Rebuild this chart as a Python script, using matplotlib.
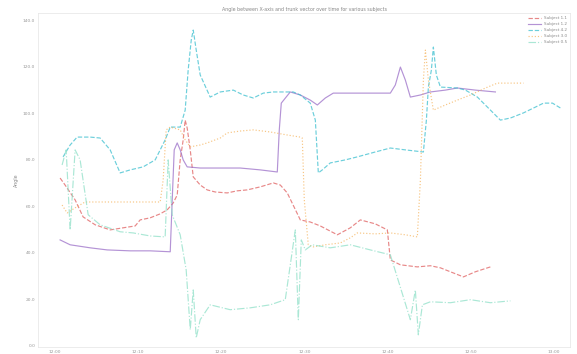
import matplotlib
matplotlib.use("Agg")
import matplotlib.pyplot as plt
from matplotlib.ticker import FuncFormatter

# time in minutes after 12:00, angle in degrees
s1_t = [0.60, 1.20, 2.41, 3.37, 4.82, 6.63, 8.19, 9.64, 10.24, 11.45, 12.65, 13.49, 14.22, 14.70,
        15.06, 15.42, 15.66, 15.90, 16.27, 16.63, 17.47, 18.31, 19.28, 20.72, 21.93, 23.13, 24.70,
        26.27, 27.11, 27.95, 28.67, 29.52, 30.72, 31.93, 33.98, 35.54, 36.75, 38.55, 40.00, 40.36,
        41.57, 43.61, 45.18, 46.39, 47.59, 49.16, 50.60, 52.41]
s1_a = [72.1, 69.1, 62.7, 55.4, 52.0, 49.8, 50.7, 51.5, 54.1, 55.0, 56.7, 58.4, 61.4, 64.8,
        79.9, 88.5, 97.0, 93.6, 84.2, 72.6, 69.1, 67.0, 66.1, 65.7, 66.6, 67.0, 68.3,
        70.0, 69.1, 65.7, 60.4, 54.1, 53.2, 51.5, 47.7, 50.7, 54.1, 52.4, 49.8, 36.9,
        34.8, 33.9, 34.4, 33.5, 31.8, 29.6, 31.8, 33.9]

s2_t = [0.60, 1.81, 4.22, 6.27, 9.04, 11.45, 13.86, 14.10, 14.34, 14.70, 15.06, 15.42, 15.90,
        17.47, 19.88, 22.29, 24.70, 26.75, 26.99, 27.23, 28.31, 29.52, 30.72, 31.57, 32.53,
        33.49, 35.54, 37.95, 40.36, 40.96, 41.57, 42.17, 42.77, 43.98, 45.18, 46.99, 48.43,
        50.60, 53.01]
s2_a = [45.5, 43.4, 42.1, 41.2, 40.8, 40.8, 40.4, 62.7, 84.2, 87.2, 84.2, 79.9, 76.9,
        76.4, 76.4, 76.4, 75.6, 74.7, 92.8, 104.3, 109.1, 107.8, 105.6, 103.5, 106.5,
        108.6, 108.6, 108.6, 108.6, 112.1, 119.8, 114.2, 106.9, 107.8, 109.1, 109.9, 110.8,
        109.9, 109.1]

s3_t = [0.96, 1.81, 2.65, 4.22, 5.42, 6.63, 7.83, 9.04, 10.60, 12.05, 13.25, 13.86, 15.06,
        15.66, 16.02, 16.39, 16.63, 16.99, 17.47, 18.67, 19.88, 21.45, 22.65, 23.86, 25.06,
        26.27, 27.47, 28.67, 29.52, 30.72, 31.33, 31.69, 32.17, 33.13, 34.94, 36.39, 38.55,
        40.36, 42.17, 44.34, 44.70, 44.94, 45.30, 45.54, 45.90, 46.39, 48.43, 49.40, 50.84,
        52.41, 53.61, 54.82, 56.39, 57.83, 58.80, 59.88, 60.84]
s3_a = [81.2, 86.3, 89.7, 89.7, 89.3, 84.2, 74.3, 75.6, 76.9, 79.9, 88.5, 94.0, 94.0,
        101.3, 118.5, 131.4, 135.7, 127.1, 116.4, 106.9, 109.1, 109.9, 107.8, 106.5, 108.6,
        109.1, 109.1, 109.1, 107.8, 104.3, 97.0, 74.3, 75.6, 78.6, 79.9, 81.2, 83.3,
        85.0, 84.2, 83.3, 97.0, 111.2, 118.5, 128.4, 116.4, 111.2, 110.8, 109.9, 106.9,
        101.3, 97.0, 97.9, 100.1, 102.6, 104.3, 104.3, 102.2]

s4_t = [0.84, 1.45, 2.41, 3.61, 4.22, 6.63, 9.04, 11.45, 12.65, 13.01, 13.37, 13.86, 15.06,
        15.66, 16.27, 17.47, 18.31, 19.88, 20.72, 22.29, 23.86, 25.90, 27.95, 29.52, 29.76,
        30.00, 30.48, 31.08, 32.53, 34.34, 35.54, 36.39, 38.55, 40.36, 42.17, 43.61, 43.98,
        44.34, 44.58, 44.94, 45.54, 46.99, 48.43, 50.00, 51.81, 53.25, 54.82, 56.39]
s4_a = [60.5, 57.1, 59.3, 61.8, 61.8, 61.8, 61.8, 61.8, 61.8, 71.3, 92.8, 94.0, 92.8,
        88.5, 85.5, 86.3, 87.2, 89.3, 91.5, 92.3, 92.8, 91.9, 90.6, 89.7, 89.3,
        62.7, 43.4, 42.5, 43.4, 44.2, 46.4, 48.5, 48.1, 48.5, 47.7, 46.8, 71.3,
        114.2, 127.1, 114.2, 101.3, 103.5, 105.6, 107.8, 110.8, 112.9, 112.9, 112.9]

s5_t = [0.84, 1.33, 1.81, 2.41, 3.01, 3.98, 5.42, 7.83, 9.40, 11.45, 13.25, 13.61, 14.10,
        15.06, 15.78, 16.27, 16.63, 16.99, 17.47, 18.67, 21.08, 23.49, 25.90, 27.71, 28.92,
        29.28, 29.64, 30.12, 30.96, 33.13, 35.54, 37.95, 40.36, 42.77, 43.37, 43.73, 44.22,
        45.18, 47.59, 50.00, 52.41, 54.82]
s5_a = [77.7, 84.2, 49.8, 84.2, 79.9, 56.3, 52.0, 49.0, 48.5, 47.2, 46.8, 79.9, 56.3,
        47.7, 32.6, 6.9, 24.0, 3.4, 11.2, 17.6, 15.5, 16.3, 17.6, 19.8, 49.8,
        11.2, 45.5, 41.2, 43.4, 42.1, 43.4, 41.2, 39.1, 11.2, 24.0, 4.7, 17.6,
        18.9, 18.5, 19.8, 18.5, 19.3]

labels = ["Subject 1.1", "Subject 1.2", "Subject 4.2", "Subject 3.0", "Subject 0.5"]
colors = ["#e06060", "#9b6fc8", "#3bbfcf", "#f5b25a", "#8fe0c8"]
styles = ["--", "-", "--", ":", "-."]

fig = plt.figure(figsize=(5.77, 3.54), dpi=100)
ax = fig.add_axes([0.066, 0.02, 0.922, 0.943])

series = [(s1_t, s1_a), (s2_t, s2_a), (s3_t, s3_a), (s4_t, s4_a), (s5_t, s5_a)]
for (t, a), lab, c, ls in zip(series, labels, colors, styles):
    ax.plot(t, a, ls, color=c, lw=0.85, alpha=0.75, label=lab)

ax.set_xlim(-2.05, 62.0)
ax.set_ylim(-0.5, 143)
ax.set_xticks(range(0, 61, 10))
ax.set_yticks(range(0, 141, 20))
ax.xaxis.set_major_formatter(FuncFormatter(lambda v, p: f"{12 + int(v) // 60}:{int(v) % 60:02d}"))
ax.yaxis.set_major_formatter(FuncFormatter(lambda v, p: f"{v:.1f}"))
ax.tick_params(labelsize=3.2, colors="#999999", length=0, pad=2)
for s in ax.spines.values():
    s.set_color("#e4e4e4")
    s.set_linewidth(0.5)

ax.set_title("Angle between X-axis and trunk vector over time for various subjects",
             fontsize=3.4, color="#888888", pad=1.5)
ax.set_ylabel("Angle", fontsize=3.4, color="#888888", labelpad=3)
ax.legend(loc="upper right", fontsize=3.0, frameon=False, handlelength=3,
          labelcolor="#888888", borderaxespad=0.3)

fig.savefig("out.png", dpi=100)
